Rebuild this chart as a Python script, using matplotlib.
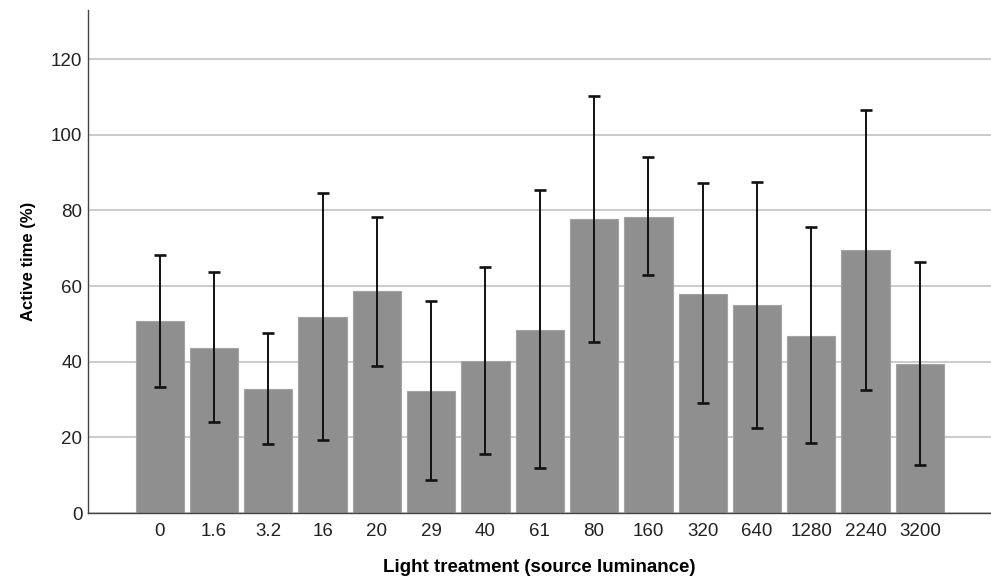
import matplotlib
matplotlib.use("Agg")
import matplotlib.pyplot as plt
import numpy as np

plt.rcParams["font.family"] = ["Liberation Sans", "DejaVu Sans"]

# data
treatments = ["0", "1.6", "3.2", "16", "20", "29", "40", "61", "80", "160",
              "320", "640", "1280", "2240", "3200"]
active_mean = [50.7, 43.7, 32.8, 51.8, 58.6, 32.2, 40.1, 48.5, 77.7, 78.2,
               58.0, 54.9, 46.8, 69.5, 39.3]
err_high = [68.3, 63.7, 47.5, 84.7, 78.3, 56.0, 65.1, 85.3, 110.3, 94.0,
            87.2, 87.6, 75.5, 106.6, 66.3]
err_low = [33.3, 24.0, 18.3, 19.2, 39.0, 8.7, 15.5, 12.0, 45.3, 62.9,
           29.0, 22.5, 18.4, 32.6, 12.7]

x = np.arange(len(treatments))
mean = np.array(active_mean)
yerr = np.vstack([mean - np.array(err_low), np.array(err_high) - mean])

fig = plt.figure(figsize=(9.91, 5.78), dpi=100)
ax = fig.add_axes([88 / 991, 1 - 513 / 578, 903 / 991, 503 / 578])

ax.set_axisbelow(True)
ax.yaxis.grid(True, color="#bdbdbd", lw=1.1)
ax.bar(x, mean, width=0.89, color="#8f8f8f", edgecolor="#a3a3a3", lw=0.8, zorder=2)
ax.errorbar(x, mean, yerr=yerr, fmt="none", ecolor="#111111", elinewidth=1.4,
            capsize=4.6, capthick=1.9, zorder=3)

ax.set_xlim(-1.32, 15.31)
ax.set_ylim(0, 133)
ax.set_yticks(range(0, 121, 20))
ax.set_xticks(x)
ax.set_xticklabels(treatments)
ax.tick_params(axis="both", length=0, labelsize=13.5, colors="#222222")
ax.tick_params(axis="y", pad=4)
ax.tick_params(axis="x", pad=7)

for side in ("top", "right"):
    ax.spines[side].set_visible(False)
for side in ("left", "bottom"):
    ax.spines[side].set_color("#444444")
    ax.spines[side].set_linewidth(1.0)

ax.set_ylabel("Active time (%)", fontsize=12, fontweight="bold", labelpad=11)
ax.set_xlabel("Light treatment (source luminance)", fontsize=13.5, fontweight="bold", labelpad=14)

fig.savefig("out.png", dpi=100)
